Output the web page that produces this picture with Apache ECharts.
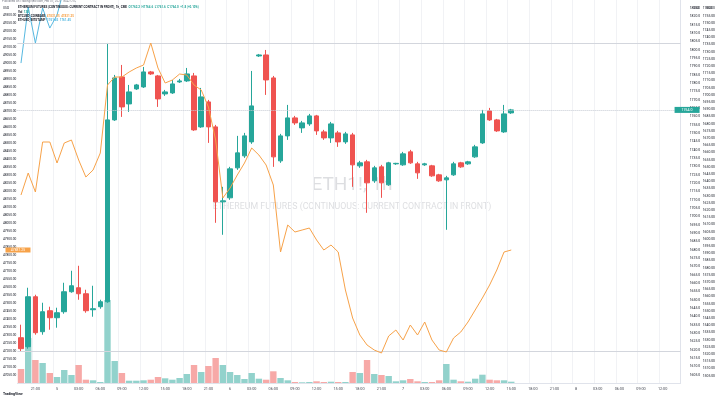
<!DOCTYPE html>
<html>
<head>
<meta charset="utf-8">
<title>ETH1!, 1h</title>
<script src="https://cdn.jsdelivr.net/npm/echarts@6/dist/echarts.min.js"></script>
<style>
    html, body { margin: 0; padding: 0; background: #fff; }
    #chart { width: 718px; height: 397px; }
</style>
</head>
<body>
<div id="chart"></div>
<script>
// ETH1! hourly candles (CME)
const openPrices = [
    1627.2, 1621.8, 1651.8, 1630.8, 1643.4, 1639.2, 1642.8, 1654.8, 1657.2, 1653.6,
    1644.0, 1645.8, 1648.8, 1758.0, 1783.8, 1767.6, 1776.6, 1777.8, 1786.8, 1784.4,
    1773.6, 1774.2, 1780.8, 1781.4, 1784.4, 1753.8, 1768.8, 1753.8, 1708.8, 1711.2,
    1729.2, 1736.4, 1744.8, 1796.4, 1797.0, 1783.2, 1733.4, 1748.4, 1759.2, 1753.2,
    1755.6, 1760.4, 1750.8, 1747.2, 1750.2, 1744.8, 1749.0, 1730.4, 1732.8, 1721.4,
    1729.8, 1719.0, 1731.6, 1731.0, 1738.8, 1731.6, 1731.0, 1730.4, 1725.0, 1722.0,
    1725.0, 1732.2, 1731.6, 1735.8, 1744.2, 1763.4, 1758.0, 1750.8, 1762.2
]
const closePrices = [
    1620.6, 1651.8, 1630.2, 1642.8, 1639.2, 1642.2, 1654.8, 1658.4, 1653.6, 1643.4,
    1644.6, 1648.8, 1758.0, 1783.2, 1765.8, 1774.8, 1779.0, 1786.8, 1785.6, 1770.6,
    1774.8, 1779.6, 1781.4, 1785.6, 1752.0, 1771.8, 1753.8, 1708.8, 1709.4, 1728.6,
    1738.2, 1748.4, 1766.4, 1797.0, 1782.0, 1735.8, 1748.4, 1759.2, 1756.2, 1756.2,
    1760.4, 1751.4, 1747.2, 1755.6, 1744.8, 1749.6, 1731.0, 1732.2, 1720.2, 1729.2,
    1720.2, 1732.2, 1731.9, 1737.6, 1732.2, 1726.2, 1731.6, 1724.4, 1721.4, 1723.2,
    1731.6, 1729.8, 1732.8, 1741.8, 1761.6, 1758.0, 1751.4, 1761.6, 1764.0
]
const highPrices = [
    1635.0, 1657.2, 1653.0, 1648.2, 1645.8, 1645.2, 1660.2, 1667.4, 1670.4, 1656.0,
    1658.4, 1650.0, 1804.2, 1785.0, 1791.0, 1779.0, 1779.6, 1789.8, 1787.4, 1785.0,
    1776.0, 1782.0, 1782.6, 1789.2, 1786.2, 1777.2, 1770.0, 1755.0, 1717.8, 1729.8,
    1748.4, 1750.2, 1787.4, 1797.6, 1800.0, 1784.4, 1749.6, 1767.0, 1760.4, 1757.4,
    1761.6, 1761.0, 1752.0, 1756.8, 1751.4, 1750.8, 1750.2, 1733.4, 1734.0, 1730.4,
    1731.0, 1732.8, 1732.2, 1738.8, 1740.0, 1732.8, 1732.2, 1731.0, 1725.6, 1724.4,
    1732.8, 1732.8, 1733.4, 1743.0, 1764.0, 1765.2, 1758.6, 1767.0, 1764.6
]
const lowPrices = [
    1618.8, 1620.6, 1629.0, 1629.0, 1632.0, 1633.2, 1641.6, 1654.2, 1650.0, 1642.2,
    1639.8, 1644.6, 1648.2, 1757.4, 1759.8, 1762.8, 1776.0, 1777.2, 1785.0, 1765.8,
    1772.4, 1773.6, 1780.2, 1780.8, 1751.4, 1753.2, 1744.2, 1696.2, 1689.0, 1710.0,
    1728.0, 1735.2, 1743.6, 1795.8, 1773.0, 1729.8, 1732.2, 1746.0, 1755.0, 1750.2,
    1754.4, 1749.0, 1746.0, 1744.2, 1741.8, 1743.6, 1717.8, 1729.2, 1702.2, 1720.2,
    1711.2, 1718.4, 1731.0, 1730.4, 1731.6, 1722.6, 1730.4, 1723.8, 1720.8, 1692.0,
    1724.4, 1729.2, 1731.0, 1735.2, 1743.6, 1757.4, 1750.8, 1750.2, 1761.6
]
const volumes = [
    1400, 4500, 2300, 2000, 1000, 600, 1300, 800, 1800, 330,
    270, 100, 8300, 2200, 1000, 230, 230, 270, 330, 600,
    470, 330, 500, 900, 1800, 1100, 1700, 2500, 1800, 1100,
    800, 400, 1000, 430, 330, 1170, 500, 270, 100, 70,
    100, 170, 100, 130, 100, 100, 1100, 1000, 2300, 900,
    800, 700, 170, 270, 400, 170, 100, 100, 270, 1900,
    330, 170, 130, 430, 830, 330, 270, 270, 130
]
// overlay symbols
const btcLine = [
    48175, 48312.5, 48193.75, 48506.25, 48506.25, 48375, 48500, 48518.75, 48393.75, 48287.5,
    48331.25, 48437.5, 48862.5, 48912.5, 48912.5, 48943.75, 48968.75, 48987.5, 49125, 48968.75,
    48875, 48893.75, 48931.25, 48925, 48862.5, 48831.25, 48725, 48518.75, 48156.25, 48218.75,
    48300, 48375, 48468.75, 48425, 48362.5, 48237.5, 47818.75, 47987.5, 47943.75, 47956.25,
    47968.75, 47893.75, 47831.25, 47862.5, 47818.75, 47581.25, 47406.25, 47300, 47237.5, 47206.25,
    47187.5, 47293.75, 47331.25, 47268.75, 47362.5, 47300, 47381.25, 47268.75, 47206.25, 47193.75,
    47281.25, 47318.75, 47381.25, 47456.25, 47531.25, 47612.5, 47706.25, 47818.75, 47831.25
]
const ethSpotLine = [1722.2, 1761.1, 1736.1, 1760.4, 1746.5, 1755.6, 1774.3, 1785.0]
const levels = [1804.2, 1618.8]

const slotCount = 92
const startTime = Date.UTC(2021, 1, 4, 19)
const categories = []
for (let i = 0; i < slotCount; i++) categories.push(String(startTime + i * 3600000))

const upColor = '#26a69a'
const downColor = '#ef5350'
const lastIndex = closePrices.length - 1
const lastClose = closePrices[lastIndex]
const lastBtc = btcLine[btcLine.length - 1]
const fontFamily = 'Roboto, sans-serif'

const pad = n => (n < 10 ? '0' : '') + n
const showTick = idx => idx % 3 === 2
function timeLabel(v) {
    const d = new Date(Number(v))
    const h = d.getUTCHours()
    return h === 0 ? String(d.getUTCDate()) : pad(h) + ':00'
}

const candles = openPrices.map((o, i) => [o, closePrices[i], lowPrices[i], highPrices[i]])
const volumeBars = volumes.map((v, i) => ({
    value: v,
    itemStyle: { color: closePrices[i] >= openPrices[i] ? 'rgba(38,166,154,0.5)' : 'rgba(239,83,80,0.5)' }
}))

const small = { fontSize: 3.2, color: '#131722', fontFamily: fontFamily, fontWeight: 'normal' }

const chart = echarts.init(document.getElementById('chart'))
chart.setOption({
    animation: false,
    backgroundColor: '#ffffff',
    textStyle: { fontFamily: fontFamily },
    title: [
        { text: 'Published on TradingView.com, Feb 07, 2021 16:42 UTC', left: 2, top: 0, padding: 0,
          textStyle: { fontSize: 3, color: '#787b86', fontWeight: 'normal' } },
        { text: '{n|ETHEREUM FUTURES (CONTINUOUS: CURRENT CONTRACT IN FRONT), 1h, CME}  {u|O1762.2  H1764.6  L1761.6  C1764.0  +1.8 (+0.10%)}',
          left: 18, top: 6, padding: 0,
          textStyle: { fontSize: 3, rich: { n: { fontSize: 3, color: '#131722' }, u: { fontSize: 3, color: upColor } } } },
        { text: '{n|Vol}  {u|130}', left: 18, top: 10.5, padding: 0,
          textStyle: { fontSize: 3, rich: { n: { fontSize: 3, color: '#131722' }, u: { fontSize: 3, color: upColor } } } },
        { text: '{n|BTCUSD, COINBASE}  {o|47831.25  47831.25}', left: 18, top: 15, padding: 0,
          textStyle: { fontSize: 3, rich: { n: { fontSize: 3, color: '#131722' }, o: { fontSize: 3, color: '#f7a249' } } } },
        { text: '{n|ETHUSD, BITSTAMP}  {c|1761.45  1761.45}', left: 18, top: 19, padding: 0,
          textStyle: { fontSize: 3, rich: { n: { fontSize: 3, color: '#131722' }, c: { fontSize: 3, color: '#56b8e0' } } } },
        { text: 'USD', left: 3, top: 6.5, padding: 0, textStyle: small },
        { text: 'USD', left: 693, top: 6.5, padding: 0, textStyle: small },
        { text: 'USD', left: 706, top: 6.5, padding: 0, textStyle: small },
        { text: 'TradingView', left: 3, bottom: 1, padding: 0,
          textStyle: { fontSize: 3.5, color: '#131722', fontWeight: 'bold' } }
    ],
    graphic: [
        { type: 'text', x: 352, y: 185, silent: true, z: 0,
          style: { text: 'ETH1!, 1h', align: 'center', verticalAlign: 'middle', fontSize: 19,
                   fontFamily: fontFamily, fill: 'rgba(120,123,134,0.25)' } },
        { type: 'text', x: 352, y: 207, silent: true, z: 0,
          style: { text: 'ETHEREUM FUTURES (CONTINUOUS: CURRENT CONTRACT IN FRONT)', align: 'center',
                   verticalAlign: 'middle', fontSize: 8.8, fontFamily: fontFamily, fill: 'rgba(120,123,134,0.25)' } }
    ],
    grid: { left: 15, right: 34, top: 0, bottom: 14 },
    xAxis: {
        type: 'category',
        data: categories,
        boundaryGap: true,
        axisTick: { show: false },
        axisLine: { lineStyle: { color: '#e0e3eb' } },
        axisLabel: { interval: showTick, formatter: timeLabel, fontSize: 3.8, color: '#4a4d57', margin: 4 },
        splitLine: { show: true, interval: showTick, lineStyle: { color: '#f1f2f5', width: 1 } }
    },
    yAxis: [
        {
            type: 'value', position: 'right', min: 1600, max: 1830, interval: 5,
            axisLine: { show: true, lineStyle: { color: '#e0e3eb' } },
            axisTick: { show: false },
            splitLine: { show: false },
            axisLabel: { fontSize: 3.4, color: '#131722', margin: 9, showMaxLabel: false, showMinLabel: false,
                         formatter: v => v.toFixed(1) }
        },
        {
            type: 'value', position: 'right', offset: 20, min: 1500, max: 1766, interval: 5,
            axisLine: { show: false }, axisTick: { show: false }, splitLine: { show: false },
            axisLabel: { fontSize: 3.4, color: '#131722', margin: 2, showMinLabel: false,
                         formatter: v => (v > 1760 ? '' : v.toFixed(2)) }
        },
        {
            type: 'value', position: 'left', min: 47000, max: 49393.75, interval: 50,
            axisLine: { show: false }, axisTick: { show: false }, splitLine: { show: false },
            axisLabel: { fontSize: 3.2, color: '#131722', margin: 1, showMaxLabel: false, showMinLabel: false,
                         formatter: v => (v > 49320 ? '' : v.toFixed(2)) }
        },
        { type: 'value', show: false, min: 0, max: 38300 }
    ],
    series: [
        {
            name: 'Vol', type: 'bar', yAxisIndex: 3, data: volumeBars,
            barWidth: 6.4, z: 1, silent: true
        },
        {
            name: 'ETHUSD', type: 'line', yAxisIndex: 1, data: ethSpotLine,
            symbol: 'none', z: 3, lineStyle: { color: '#56b8e0', width: 1 }, silent: true
        },
        {
            name: 'ETH1!', type: 'candlestick', yAxisIndex: 0, data: candles,
            barWidth: 5, z: 4,
            itemStyle: { color: upColor, color0: downColor, borderColor: upColor, borderColor0: downColor, borderWidth: 1 },
            markLine: {
                silent: true, symbol: 'none', label: { show: false },
                lineStyle: { color: '#d3d6dd', width: 1, type: 'solid' },
                data: levels.map(v => ({ yAxis: v })).concat([{ yAxis: lastClose, lineStyle: { color: '#c5cad3', type: 'dotted' } }])
            },
            markPoint: {
                silent: true,
                data: [{
                    coord: [slotCount - 1, lastClose], symbol: 'rect', symbolSize: [25, 6], symbolOffset: [10, 0],
                    itemStyle: { color: upColor },
                    label: { show: true, formatter: lastClose.toFixed(1), color: '#fff', fontSize: 3.6 }
                }]
            }
        },
        {
            name: 'BTCUSD', type: 'line', yAxisIndex: 2, data: btcLine,
            symbol: 'none', z: 5, lineStyle: { color: '#f7a249', width: 1 }, silent: true,
            markPoint: {
                silent: true,
                data: [{
                    coord: [0, lastBtc], symbol: 'rect', symbolSize: [25, 5], symbolOffset: [-3, 0],
                    itemStyle: { color: '#f7a249' },
                    label: { show: true, formatter: lastBtc.toFixed(2), color: '#fff', fontSize: 3.4 }
                }]
            }
        }
    ]
})
</script>
</body>
</html>
